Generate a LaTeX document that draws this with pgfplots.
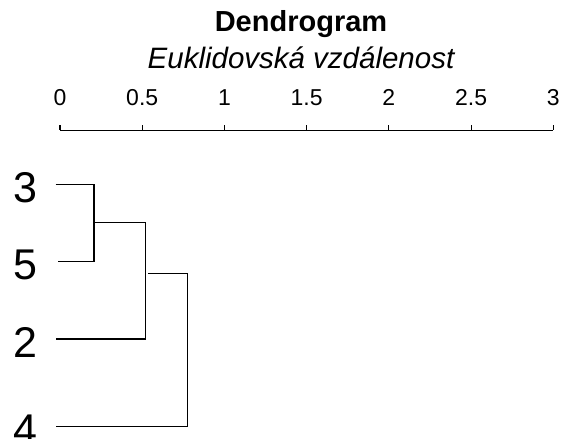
\documentclass[border=0pt]{standalone}
\usepackage{pgfplots}
\pgfplotsset{compat=1.18}
\usepackage{fontspec}
\setmainfont{Liberation Sans}
\begin{document}
\begin{tikzpicture}
\begin{axis}[
  at={(60bp,-439bp)}, anchor=south west,
  scale only axis, width=493.3bp, height=308.7bp,
  xmin=0, xmax=3, ymin=-439, ymax=-130.3,
  clip=false,
  axis x line*=top,
  axis y line*=left,
  y axis line style={draw=none},
  x axis line style={line width=1.1bp, black},
  xtick={0,0.5,1,1.5,2,2.5,3},
  xticklabels={0,0.5,1,1.5,2,2.5,3},
  tick align=outside,
  major tick length=5bp,
  xtick style={line width=1.1bp, black},
  ytick style={draw=none},
  xticklabel style={font=\fontsize{23bp}{26bp}\selectfont, anchor=base, yshift=20bp},
  ytick={-184.3,-261.7,-339,-426.7},
  yticklabels={3,5,2,4},
  yticklabel style={font=\fontsize{43bp}{50bp}\selectfont, anchor=east, xshift=-17bp, yshift=-3bp, inner sep=0pt},
]
\addplot[black, line width=1.2bp] coordinates {(-0.026,-184.3) (0.2068,-184.3) (0.2068,-261.7) (-0.014,-261.7)};
\addplot[black, line width=1.2bp] coordinates {(0.2068,-222.7) (0.5189,-222.7) (0.5189,-339) (-0.024,-339)};
\addplot[black, line width=1.2bp] coordinates {(0.537,-273.3) (0.7743,-273.3) (0.7743,-426.7) (-0.024,-426.7)};
\end{axis}
\node[anchor=base, font=\fontsize{29bp}{32bp}\selectfont\bfseries] at (301bp,-31.7bp) {Dendrogram};
\node[anchor=base, font=\fontsize{29.5bp}{32bp}\selectfont\itshape] at (301bp,-68.3bp) {Euklidovská vzdálenost};
\pgfresetboundingbox
\useasboundingbox (0,0) rectangle (563bp,-439bp);
\end{tikzpicture}
\end{document}
